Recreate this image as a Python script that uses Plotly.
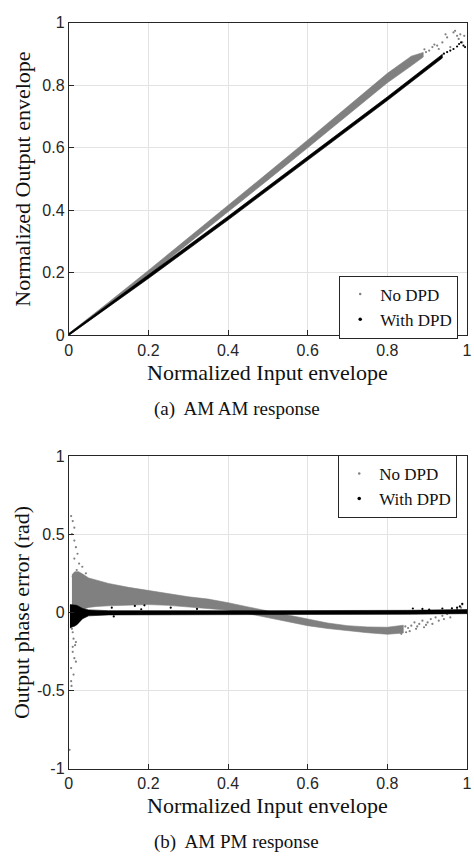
import plotly.graph_objects as go

# ---------------- data ----------------
# AM/AM: envelope of the dense clouds (x, lower, upper)
AMAM_NODPD_X = [0.0, 0.1, 0.2, 0.3, 0.4, 0.5, 0.6, 0.7, 0.8, 0.86, 0.89]
AMAM_NODPD_LO = [0.0, 0.093, 0.192, 0.293, 0.395, 0.497, 0.600, 0.705, 0.808, 0.862, 0.890]
AMAM_NODPD_HI = [0.006, 0.106, 0.208, 0.312, 0.415, 0.520, 0.625, 0.730, 0.838, 0.893, 0.905]

AMAM_DPD_X = [0.0, 0.2, 0.4, 0.6, 0.8, 0.938]
AMAM_DPD_LO = [0.0, 0.182, 0.369, 0.559, 0.751, 0.887]
AMAM_DPD_HI = [0.006, 0.194, 0.381, 0.571, 0.763, 0.899]

# AM/AM sparse points at the high-amplitude end
AMAM_NODPD_PX = [0.897, 0.905, 0.913, 0.925, 0.929, 0.938, 0.946, 0.950, 0.958,
                 0.966, 0.970, 0.975, 0.979, 0.983, 0.988, 0.993, 0.893, 0.918]
AMAM_NODPD_PY = [0.906, 0.911, 0.922, 0.927, 0.916, 0.937, 0.963, 0.953, 0.922,
                 0.969, 0.974, 0.958, 0.948, 0.963, 0.937, 0.958, 0.915, 0.930]
AMAM_DPD_PX = [0.942, 0.950, 0.958, 0.966, 0.975, 0.980, 0.985, 0.991, 0.995]
AMAM_DPD_PY = [0.901, 0.906, 0.911, 0.916, 0.924, 0.932, 0.937, 0.927, 0.922]

# AM/PM: No DPD cloud envelope
AMPM_NODPD_X = [0.008, 0.015, 0.025, 0.035, 0.05, 0.07, 0.1, 0.15, 0.2, 0.25, 0.3, 0.35,
                0.4, 0.45, 0.5, 0.55, 0.6, 0.65, 0.7, 0.75, 0.8, 0.84]
AMPM_NODPD_HI = [0.24, 0.26, 0.26, 0.245, 0.22, 0.205, 0.185, 0.160, 0.140, 0.120, 0.100,
                 0.085, 0.062, 0.035, 0.010, -0.015, -0.043, -0.068, -0.085,
                 -0.093, -0.095, -0.082]
AMPM_NODPD_LO = [-0.06, -0.03, 0.0, 0.02, 0.032, 0.038, 0.042, 0.048, 0.050, 0.045,
                 0.035, 0.028, 0.014, -0.008, -0.033, -0.058, -0.085, -0.103,
                 -0.118, -0.130, -0.140, -0.132]

# AM/PM: No DPD sparse points (low and high amplitude)
AMPM_NODPD_PX = [0.006, 0.010, 0.014, 0.008, 0.014, 0.018, 0.022, 0.014, 0.026,
                 0.034, 0.020, 0.043, 0.010,
                 0.008, 0.012, 0.016, 0.010, 0.014, 0.018, 0.006, 0.012, 0.006,
                 0.007, 0.002, 0.006, 0.014, 0.022, 0.010, 0.018, 0.010, 0.026,
                 0.835, 0.847, 0.852, 0.860, 0.868, 0.872, 0.880, 0.888, 0.892, 0.901,
                 0.909, 0.913, 0.921, 0.929, 0.938, 0.942, 0.950, 0.958, 0.966,
                 0.975, 0.979, 0.985, 0.988, 0.845, 0.856, 0.875, 0.897]
AMPM_NODPD_PY = [0.616, 0.584, 0.542, 0.500, 0.459, 0.417, 0.375, 0.344, 0.312,
                 0.292, 0.271, 0.250, 0.229,
                 -0.105, -0.168, -0.210, -0.252, -0.293, -0.315, -0.356, -0.398,
                 -0.440, -0.470, -0.879, -0.043, -0.085, -0.064, -0.127, -0.190,
                 -0.220, -0.043,
                 -0.137, -0.127, -0.100, -0.085, -0.064, -0.105, -0.074, -0.053, -0.095,
                 -0.064, -0.043, -0.074, -0.032, -0.053, -0.022, -0.043, -0.011,
                 -0.032, 0.003, 0.020, -0.001, 0.030, 0.051, -0.090, -0.120,
                 -0.090, -0.080]

# AM/PM: With DPD band envelope
AMPM_DPD_X = [0.003, 0.02, 0.035, 0.05, 0.1, 0.3, 0.5, 0.7, 0.85, 1.0]
AMPM_DPD_HI = [0.05, 0.045, 0.025, 0.016, 0.011, 0.011, 0.011, 0.011, 0.013, 0.018]
AMPM_DPD_LO = [-0.10, -0.08, -0.04, -0.022, -0.016, -0.016, -0.015, -0.014, -0.012, -0.008]
AMPM_DPD_PX = [0.108, 0.166, 0.182, 0.190, 0.256, 0.322, 0.113,
               0.864, 0.888, 0.905, 0.938, 0.962, 0.975, 0.982, 0.988]
AMPM_DPD_PY = [0.030, 0.041, 0.020, 0.045, 0.030, 0.022, -0.026,
               0.025, 0.022, 0.018, 0.025, 0.026, 0.030, 0.038, 0.055]

XTICKS = [0, 0.2, 0.4, 0.6, 0.8, 1]
XTICKTEXT = ["0", "0.2", "0.4", "0.6", "0.8", "1"]
YTICKS_AMAM = [0, 0.2, 0.4, 0.6, 0.8, 1]
YTICKTEXT_AMAM = ["0", "0.2", "0.4", "0.6", "0.8", "1"]
YTICKS_AMPM = [-1, -0.5, 0, 0.5, 1]
YTICKTEXT_AMPM = ["-1", "-0.5", "0", "0.5", "1"]

GRAY = "#808080"
BLACK = "#000000"
W, H = 474, 865


def band(x, lo, hi):
    return list(x) + list(x)[::-1], list(lo) + list(hi)[::-1]


fig = go.Figure()


def add_panel(bands_and_points, xa, ya, leg):
    for kind, color, a, b, c in bands_and_points:
        if kind == "band":
            bx, by = band(a, b, c)
            fig.add_trace(go.Scatter(x=bx, y=by, mode="lines", fill="toself",
                                     fillcolor=color, line=dict(color=color, width=0.6),
                                     showlegend=False, hoverinfo="skip",
                                     xaxis=xa, yaxis=ya))
        else:
            fig.add_trace(go.Scatter(x=a, y=b, mode="markers",
                                     marker=dict(color=color, size=2.2),
                                     showlegend=False, xaxis=xa, yaxis=ya))
    fig.add_trace(go.Scatter(x=[None], y=[None], mode="markers", name="No DPD",
                             marker=dict(color=GRAY, size=2.5), legend=leg,
                             xaxis=xa, yaxis=ya))
    fig.add_trace(go.Scatter(x=[None], y=[None], mode="markers", name="With DPD",
                             marker=dict(color=BLACK, size=3.5), legend=leg,
                             xaxis=xa, yaxis=ya))


add_panel([
    ("band", GRAY, AMAM_NODPD_X, AMAM_NODPD_LO, AMAM_NODPD_HI),
    ("pts", GRAY, AMAM_NODPD_PX, AMAM_NODPD_PY, None),
    ("band", BLACK, AMAM_DPD_X, AMAM_DPD_LO, AMAM_DPD_HI),
    ("pts", BLACK, AMAM_DPD_PX, AMAM_DPD_PY, None),
], "x", "y", "legend")

add_panel([
    ("band", GRAY, AMPM_NODPD_X, AMPM_NODPD_LO, AMPM_NODPD_HI),
    ("pts", GRAY, AMPM_NODPD_PX, AMPM_NODPD_PY, None),
    ("band", BLACK, AMPM_DPD_X, AMPM_DPD_LO, AMPM_DPD_HI),
    ("pts", BLACK, AMPM_DPD_PX, AMPM_DPD_PY, None),
], "x2", "y2", "legend2")

# ---- layout ----
L, R = 66, 472
T1, B1 = 15, 334
T2, B2 = 457, 776


def px2x(p):
    return p / W


def py2y(p):
    return 1 - p / H


EPS = 1e-6
tickfont = dict(family="Liberation Sans, Arial, sans-serif", size=16, color="#262626")
axis_common = dict(showline=True, mirror=True, linecolor="#262626", linewidth=1,
                   showgrid=True, gridcolor="#e3e3e3", gridwidth=1,
                   ticks="inside", ticklen=5, tickcolor="#262626",
                   zeroline=False, tickfont=tickfont, fixedrange=True,
                   ticklabeloverflow="allow")
legfont = dict(family="Liberation Serif, serif", size=17, color="#111111")

fig.update_layout(
    width=W, height=H,
    margin=dict(l=0, r=0, t=0, b=0),
    paper_bgcolor="white", plot_bgcolor="white",
    xaxis=dict(domain=[px2x(L), px2x(R)], anchor="y", range=[-EPS, 1 + EPS],
               tickvals=XTICKS, ticktext=XTICKTEXT, **axis_common),
    yaxis=dict(domain=[py2y(B1), py2y(T1)], anchor="x", range=[-EPS, 1 + EPS],
               tickvals=YTICKS_AMAM, ticktext=YTICKTEXT_AMAM, **axis_common),
    xaxis2=dict(domain=[px2x(L), px2x(R)], anchor="y2", range=[-EPS, 1 + EPS],
                tickvals=XTICKS, ticktext=XTICKTEXT, **axis_common),
    yaxis2=dict(domain=[py2y(B2), py2y(T2)], anchor="x2", range=[-1 - EPS, 1 + EPS],
                tickvals=YTICKS_AMPM, ticktext=YTICKTEXT_AMPM, **axis_common),
    legend=dict(x=px2x(463), y=py2y(305), xanchor="right", yanchor="middle",
                bgcolor="white", bordercolor="#262626", borderwidth=1,
                font=legfont, itemwidth=30, tracegroupgap=0),
    legend2=dict(x=px2x(462), y=py2y(488), xanchor="right", yanchor="middle",
                 bgcolor="white", bordercolor="#262626", borderwidth=1,
                 font=legfont, itemwidth=30, tracegroupgap=0),
    showlegend=True,
)

titlefont = dict(family="Liberation Serif, serif", size=22, color="#111111")
capfont = dict(family="Liberation Serif, serif", size=19, color="#111111")
ann = [
    dict(text="Normalized Input envelope", x=px2x((L + R) / 2), y=py2y(372), font=titlefont),
    dict(text="Normalized Input envelope", x=px2x((L + R) / 2), y=py2y(813), font=titlefont),
    dict(text="Normalized Output envelope", x=px2x(18), y=py2y((T1 + B1) / 2),
         font=titlefont, textangle=-90),
    dict(text="Output phase error (rad)", x=px2x(18), y=py2y((T2 + B2) / 2),
         font=titlefont, textangle=-90),
    dict(text="(a)\u00a0 AM AM response", x=0.5, y=py2y(409), font=capfont),
    dict(text="(b)\u00a0 AM PM response", x=0.5, y=py2y(851), font=capfont),
]
for a in ann:
    a.update(xref="paper", yref="paper", showarrow=False, xanchor="center", yanchor="middle")
fig.update_layout(annotations=ann)

fig.write_html("out.html")
